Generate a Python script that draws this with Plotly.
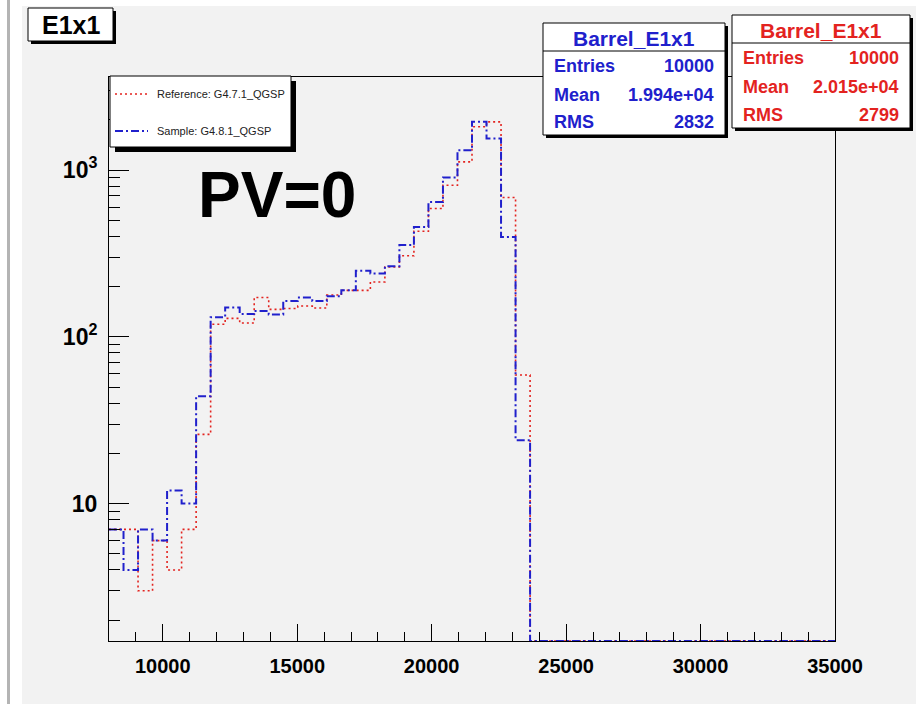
import plotly.graph_objects as go

# ---- histogram definition: 50 bins from 8000 to 35000 ----
x_min = 8000
x_max = 35000
n_bins = 50

# bin contents, reference sample (G4.7.1_QGSP)
reference_counts = [7, 7, 3, 6, 4, 7, 26, 119, 129, 121, 172, 146, 148, 153, 149,
                    178, 190, 190, 213, 262, 306, 430, 588, 811, 1120, 1817, 1945,
                    685, 59] + [0] * 21
# bin contents, test sample (G4.8.1_QGSP)
sample_counts = [7, 4, 7, 6, 12, 10, 44, 131, 150, 137, 143, 136, 164, 172, 164,
                 175, 190, 249, 240, 265, 355, 456, 644, 903, 1315, 1945, 1547,
                 397, 24] + [0] * 21

series_names = ["Reference: G4.7.1_QGSP", "Sample: G4.8.1_QGSP"]
stat_labels = ["Entries", "Mean", "RMS"]
sample_stats = ["10000", "1.994e+04", "2832"]
reference_stats = ["10000", "2.015e+04", "2799"]
hist_name = "Barrel_E1x1"
pad_title = "E1x1"
pv_text = "PV=0"

x_tick_vals = [10000, 15000, 20000, 25000, 30000, 35000]
x_tick_text = ["10000", "15000", "20000", "25000", "30000", "35000"]
y_tick_vals = [10, 100, 1000]
y_tick_text = ["10", "10<sup>2</sup>", "10<sup>3</sup>"]
y_log_range = [0.176, 3.558]

RED = "#e3231f"
BLUE = "#2020cc"
BG = "#f2f2f2"
FONT = "Liberation Sans, Arial, sans-serif"

# ---- frame placement in pixels ----
FIG_W, FIG_H = 916, 704
L, R, T, B = 109, 835, 77, 641
W, H = R - L, B - T


def fx(px):
    return (px - L) / W


def fy(py):
    return (B - py) / H


bin_w = (x_max - x_min) / n_bins
edges = [x_min + i * bin_w for i in range(n_bins + 1)]
floor_val = 10 ** y_log_range[0]


def step_xy(counts):
    # empty bins sit on the lower edge of the log axis
    ys = [c if c > 0 else floor_val for c in counts]
    return edges, ys + [ys[-1]]


fig = go.Figure()
rx, ry = step_xy(reference_counts)
fig.add_trace(go.Scatter(x=rx, y=ry, mode="lines", line_shape="hv",
                         line=dict(color=RED, width=1.6, dash="2px,3px"),
                         name=series_names[0], showlegend=False))
sx, sy = step_xy(sample_counts)
fig.add_trace(go.Scatter(x=sx, y=sy, mode="lines", line_shape="hv",
                         line=dict(color=BLUE, width=2, dash="8px,3px,2px,3px"),
                         name=series_names[1], showlegend=False))

shapes = []
annots = []


def rect(x0, y0, x1, y1, fill, line_color=None, lw=0, layer="above"):
    shapes.append(dict(type="rect", xref="paper", yref="paper",
                       x0=fx(x0), x1=fx(x1), y0=fy(y0), y1=fy(y1),
                       fillcolor=fill, layer=layer,
                       line=dict(color=line_color or fill, width=lw)))


def hline(x0, x1, y, color, width=1, dash="solid"):
    shapes.append(dict(type="line", xref="paper", yref="paper",
                       x0=fx(x0), x1=fx(x1), y0=fy(y), y1=fy(y),
                       line=dict(color=color, width=width, dash=dash)))


def text(px, py, s, size, color="black", anchor="center", bold=True):
    annots.append(dict(xref="paper", yref="paper", x=fx(px), y=fy(py),
                       text=f"<b>{s}</b>" if bold else s, showarrow=False,
                       xanchor=anchor, yanchor="middle",
                       font=dict(size=size, color=color, family=FONT)))


# canvas edges
rect(0, 0, 22, FIG_H, "white", layer="below")
rect(0, 0, FIG_W, 6, "white", layer="below")
rect(7, 0, 10, FIG_H, "#b4b4b4", layer="below")

# pad title box
rect(31, 11, 116, 44, "black")
rect(28, 8, 113, 41, "white", "black", 1)
text(70.5, 25, pad_title, 25)

# legend box
rect(115, 81, 296, 152, "black")
rect(110, 76, 291, 147, "white", "black", 1)
hline(115, 148, 94, RED, 1.6, "2px,3px")
hline(115, 148, 131, BLUE, 2, "8px,3px,2px,3px")
text(155, 94, series_names[0], 11, "#222222", "left", bold=False)
text(155, 131, series_names[1], 11, "#222222", "left", bold=False)


# statistics boxes
def stat_box(x0, y0, x1, y1, div_y, rows_y, color, values):
    rect(x0 + 3, y0 + 3, x1 + 3, y1 + 3, "black")
    rect(x0, y0, x1, y1, "white", "black", 1)
    hline(x0, x1, div_y, "black", 1)
    text((x0 + x1) / 2, (y0 + div_y) / 2 + 1, hist_name, 21, color)
    for lab, val, yy in zip(stat_labels, values, rows_y):
        text(x0 + 9, yy, lab, 18, color, "left")
        text(x1 - 9, yy, val, 18, color, "right")


stat_box(543, 23, 725, 135, 51, [66, 95, 122], BLUE, sample_stats)
stat_box(732, 15, 910, 128, 43, [58, 87, 115], RED, reference_stats)

# large annotation inside the frame
text(277, 195, pv_text, 64)

x_tick_font = dict(family=FONT, size=20, color="black", weight="bold")
y_tick_font = dict(family=FONT, size=23, color="black", weight="bold")

fig.update_layout(
    width=FIG_W, height=FIG_H,
    margin=dict(l=L, r=FIG_W - R, t=T, b=FIG_H - B),
    paper_bgcolor=BG, plot_bgcolor=BG,
    shapes=shapes, annotations=annots,
    showlegend=False,
    xaxis=dict(range=[x_min, x_max], showgrid=False, zeroline=False,
               showline=True, linecolor="black", linewidth=1, mirror=True,
               ticks="inside", ticklen=17, tickwidth=1, tickcolor="black",
               tickvals=x_tick_vals, ticktext=x_tick_text, tickfont=x_tick_font,
               ticklabelstandoff=7,
               minor=dict(ticks="inside", ticklen=9, tickwidth=1, tickcolor="black",
                          dtick=1000, tick0=0, showgrid=False)),
    yaxis=dict(type="log", range=y_log_range, showgrid=False, zeroline=False,
               showline=True, linecolor="black", linewidth=1, mirror=True,
               ticks="inside", ticklen=20, tickwidth=1, tickcolor="black",
               tickvals=y_tick_vals, ticktext=y_tick_text, tickfont=y_tick_font,
               ticklabelstandoff=6,
               minor=dict(ticks="inside", ticklen=11, tickwidth=1, tickcolor="black",
                          tickvals=[2, 3, 4, 5, 6, 7, 8, 9, 20, 30, 40, 50, 60, 70, 80, 90,
                                    200, 300, 400, 500, 600, 700, 800, 900, 2000, 3000],
                          showgrid=False)),
)

fig.write_html("out.html")
